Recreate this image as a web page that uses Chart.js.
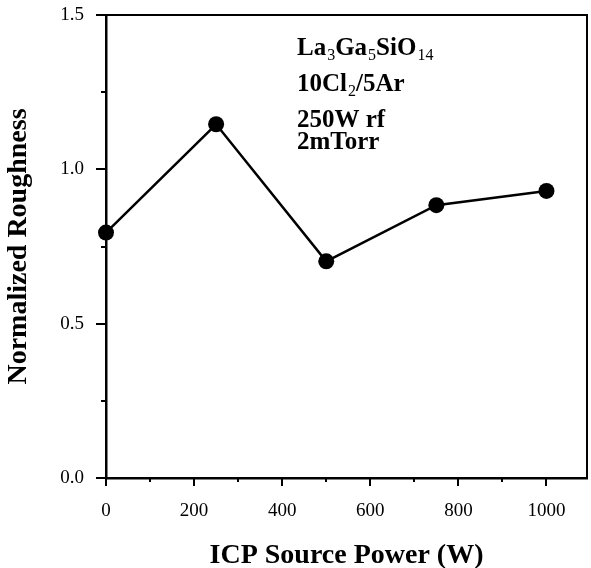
<!DOCTYPE html>
<html>
<head>
<meta charset="utf-8">
<script src="https://cdn.jsdelivr.net/npm/chart.js@4.4.0/dist/chart.umd.min.js"></script>
<style>
    html, body { margin: 0; padding: 0; background: #fff; }
    #wrap { width: 591px; height: 568px; position: relative; }
</style>
</head>
<body>
<div id="wrap"><canvas id="roughChart"></canvas></div>
<script>
const power = [0, 250, 500, 750, 1000];
const roughness = [0.795, 1.146, 0.702, 0.884, 0.930];

const xMajorTicks = [0, 200, 400, 600, 800, 1000];
const xMinorTicks = [100, 300, 500, 700, 900];
const yMajorTicks = [0, 0.5, 1.0, 1.5];
const yMinorTicks = [0.25, 0.75, 1.25];

// text block in the upper right: [text, isSubscript]
const noteLines = [
    [['La', false], ['3', true], ['Ga', false], ['5', true], ['SiO', false], ['14', true]],
    [['10Cl', false], ['2', true], ['/5Ar', false]],
    [['250W rf', false]],
    [['2mTorr', false]]
];
const noteBaselines = [55, 91, 127, 149];

const SERIF = "'Liberation Serif', 'Times New Roman', serif";

// frame, tick marks and the note (ticks placed through the chart scales)
const framePlugin = {
    id: 'framePlugin',
    afterDraw(chart) {
        const { ctx, chartArea: a, scales: { x, y } } = chart;
        ctx.save();
        ctx.strokeStyle = '#000';
        ctx.lineWidth = 2;
        ctx.beginPath();
        ctx.moveTo(a.left, a.top);
        ctx.lineTo(a.right, a.top);
        ctx.lineTo(a.right, a.bottom);
        ctx.stroke();

        ctx.beginPath();
        xMajorTicks.forEach(v => {
            const px = Math.round(x.getPixelForValue(v));
            ctx.moveTo(px, a.bottom); ctx.lineTo(px, a.bottom + 8);
        });
        xMinorTicks.forEach(v => {
            const px = Math.round(x.getPixelForValue(v));
            ctx.moveTo(px, a.bottom); ctx.lineTo(px, a.bottom + 4);
        });
        yMajorTicks.forEach(v => {
            const py = Math.round(y.getPixelForValue(v));
            ctx.moveTo(a.left, py); ctx.lineTo(a.left - 10, py);
        });
        yMinorTicks.forEach(v => {
            const py = Math.round(y.getPixelForValue(v));
            ctx.moveTo(a.left, py); ctx.lineTo(a.left - 5, py);
        });
        ctx.stroke();

        // note
        ctx.fillStyle = '#000';
        ctx.textBaseline = 'alphabetic';
        ctx.textAlign = 'left';
        noteLines.forEach((parts, i) => {
            let cx = 297;
            const base = noteBaselines[i];
            parts.forEach(([txt, sub]) => {
                if (sub) {
                    ctx.font = '16px ' + SERIF;
                    cx += 1;
                    ctx.fillText(txt, cx, base + 5);
                } else {
                    ctx.font = 'bold 25px ' + SERIF;
                    ctx.fillText(txt, cx, base);
                }
                cx += ctx.measureText(txt).width;
            });
        });
        ctx.restore();
    }
};

const ctx = document.getElementById('roughChart').getContext('2d');
const roughChart = new Chart(ctx, {
    type: 'scatter',
    data: {
        datasets: [{
            label: 'Normalized Roughness',
            data: power.map((p, i) => ({ x: p, y: roughness[i] })),
            showLine: true,
            borderColor: '#000',
            borderWidth: 2.5,
            backgroundColor: '#000',
            pointRadius: 8,
            pointHoverRadius: 8,
            pointBorderWidth: 0,
            clip: false
        }]
    },
    options: {
        responsive: true,
        maintainAspectRatio: false,
        animation: false,
        layout: { autoPadding: false, padding: { top: 15, right: 4, left: 0, bottom: 0 } },
        plugins: {
            legend: { display: false },
            tooltip: { enabled: false }
        },
        scales: {
            x: {
                type: 'linear',
                min: 0,
                max: 1092,
                afterBuildTicks: scale => { scale.ticks = xMajorTicks.map(v => ({ value: v })); },
                afterFit: scale => {
                    scale.height = 90;
                    scale.paddingLeft = 0;
                    scale.paddingRight = 0;
                },
                grid: { display: false, drawTicks: false },
                border: { display: true, color: '#000', width: 2.5 },
                ticks: {
                    color: '#000',
                    padding: 22,
                    maxRotation: 0,
                    font: { family: SERIF, size: 19 },
                    callback: v => String(v)
                },
                title: {
                    display: true,
                    text: 'ICP Source Power (W)',
                    color: '#000',
                    font: { family: SERIF, size: 28, weight: 'bold', lineHeight: 0.85 },
                    padding: { top: 0, bottom: 0 }
                }
            },
            y: {
                min: 0,
                max: 1.5,
                afterBuildTicks: scale => { scale.ticks = yMajorTicks.map(v => ({ value: v })); },
                afterFit: scale => {
                    scale.width = 106;
                    scale.paddingTop = 0;
                    scale.paddingBottom = 0;
                },
                grid: { display: false, drawTicks: false },
                border: { display: true, color: '#000', width: 2.5 },
                ticks: {
                    color: '#000',
                    padding: 22,
                    font: { family: SERIF, size: 19 },
                    callback: v => v.toFixed(1)
                },
                title: {
                    display: true,
                    text: 'Normalized Roughness',
                    color: '#000',
                    font: { family: SERIF, size: 28, weight: 'bold', lineHeight: 0.85 },
                    padding: { top: 7, bottom: 0 }
                }
            }
        }
    },
    plugins: [framePlugin]
});
</script>
</body>
</html>
